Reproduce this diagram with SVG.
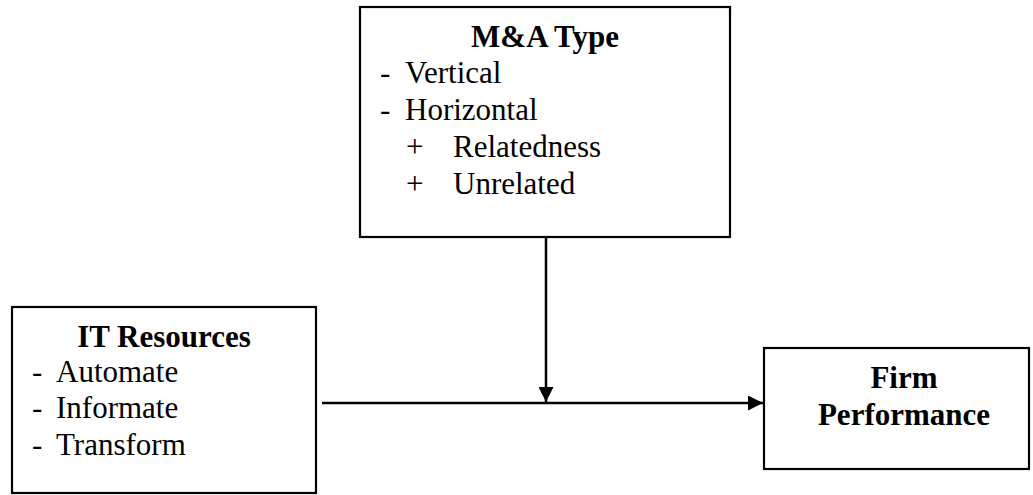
<svg xmlns="http://www.w3.org/2000/svg" width="1033" height="495" viewBox="0 0 1033 495">
<style>
.box{fill:#fff;stroke:#000;stroke-width:2.2}
.t{font-family:"Liberation Serif","Times New Roman",serif;font-size:31px;fill:#000}
.b{font-weight:bold}
.c{text-anchor:middle}
.conn{stroke:#000;stroke-width:2.5;fill:none}
</style>
<defs>
<marker id="ah" viewBox="0 0 10 10" refX="10" refY="5" markerWidth="6" markerHeight="6" markerUnits="strokeWidth" orient="auto">
<path d="M0,0 L10,5 L0,10 z" fill="#000"/>
</marker>
</defs>
<g id="ma-type">
<rect class="box" x="360" y="7" width="370" height="230"/>
<text class="t b c" x="545" y="47">M&amp;A Type</text>
<text class="t" x="380" y="83">-</text>
<text class="t" x="405" y="83">Vertical</text>
<text class="t" x="380" y="120">-</text>
<text class="t" x="405" y="120">Horizontal</text>
<text class="t" x="406" y="157">+</text>
<text class="t" x="453" y="157">Relatedness</text>
<text class="t" x="406" y="194">+</text>
<text class="t" x="453" y="194">Unrelated</text>
</g>
<g id="it-resources">
<rect class="box" x="12" y="307" width="304" height="186"/>
<text class="t b c" x="164" y="347">IT Resources</text>
<text class="t" x="32" y="382">-</text>
<text class="t" x="56" y="382">Automate</text>
<text class="t" x="32" y="418">-</text>
<text class="t" x="56" y="418">Informate</text>
<text class="t" x="32" y="455">-</text>
<text class="t" x="56" y="455">Transform</text>
</g>
<g id="firm-performance">
<rect class="box" x="764" y="348" width="265" height="121"/>
<text class="t b c" x="904" y="388">Firm</text>
<text class="t b c" x="904" y="425">Performance</text>
</g>
<g id="connectors">
<line class="conn" x1="322" y1="403" x2="763" y2="403" marker-end="url(#ah)"/>
<line class="conn" x1="546" y1="237" x2="546" y2="402" marker-end="url(#ah)"/>
</g>
</svg>
